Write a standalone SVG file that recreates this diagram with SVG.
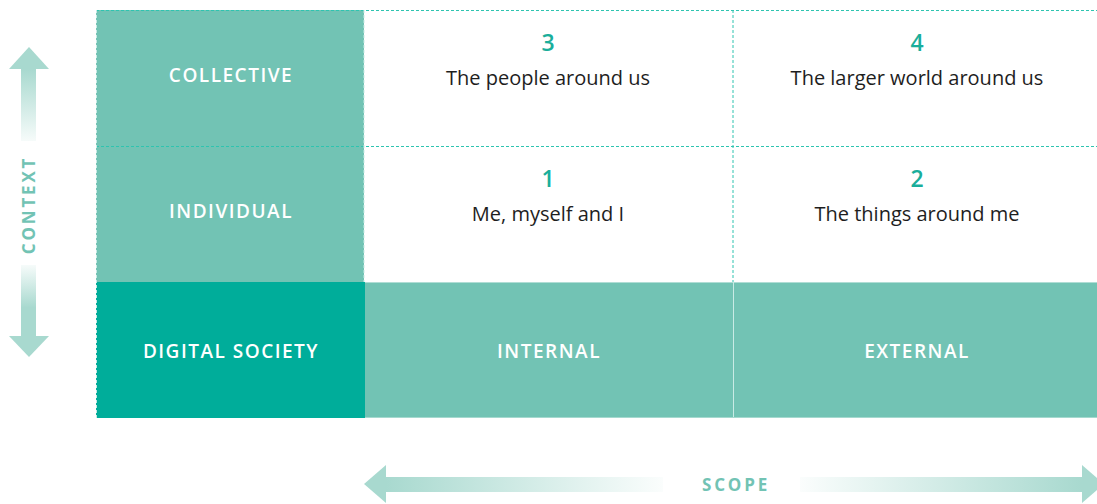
<svg xmlns="http://www.w3.org/2000/svg" width="1097" height="504" viewBox="0 0 1097 504">
<style>
.lbl{font-family:"Open Sans","Liberation Sans",sans-serif;font-weight:600;font-size:19px;letter-spacing:1.5px;fill:#ffffff;text-anchor:middle}
.num{font-family:"Open Sans","Liberation Sans",sans-serif;font-weight:600;font-size:23px;fill:#1aae9b;text-anchor:middle}
.txt{font-family:"Open Sans","Liberation Sans",sans-serif;font-weight:400;font-size:20px;fill:#1e1e1e;text-anchor:middle}
.axis{font-family:"Open Sans","Liberation Sans",sans-serif;font-weight:700;font-size:17px;letter-spacing:2.8px;fill:#72c3b4;text-anchor:middle}
.dash{stroke:#2ec4b0;stroke-width:1;stroke-dasharray:3 2;fill:none}
.light{fill:#72c3b4}
</style>
<defs>
<linearGradient id="gUp" x1="0" y1="69" x2="0" y2="141" gradientUnits="userSpaceOnUse"><stop offset="0" stop-color="#a8d9cf"/><stop offset="1" stop-color="#a8d9cf" stop-opacity="0.1"/></linearGradient>
<linearGradient id="gDown" x1="0" y1="265" x2="0" y2="336" gradientUnits="userSpaceOnUse"><stop offset="0" stop-color="#a8d9cf" stop-opacity="0.1"/><stop offset="0.6" stop-color="#a8d9cf"/><stop offset="1" stop-color="#a8d9cf"/></linearGradient>
<linearGradient id="gLeft" x1="386" y1="0" x2="663" y2="0" gradientUnits="userSpaceOnUse"><stop offset="0" stop-color="#a8d9cf"/><stop offset="1" stop-color="#a8d9cf" stop-opacity="0.05"/></linearGradient>
<linearGradient id="gRight" x1="800" y1="0" x2="1082" y2="0" gradientUnits="userSpaceOnUse"><stop offset="0" stop-color="#a8d9cf" stop-opacity="0.05"/><stop offset="1" stop-color="#a8d9cf"/></linearGradient>
</defs>

<g id="collective"><rect class="light" x="96" y="10" width="268" height="136"/><text class="lbl" x="231" y="82">COLLECTIVE</text></g>
<g id="individual"><rect class="light" x="96" y="146" width="268" height="136"/><text class="lbl" x="231" y="218">INDIVIDUAL</text></g>
<g id="digital-society"><rect fill="#00ad9a" x="96" y="282" width="268" height="136"/><text class="lbl" x="231" y="358">DIGITAL SOCIETY</text></g>
<g id="internal"><rect class="light" x="364" y="282" width="369" height="136"/><text class="lbl" x="549" y="358">INTERNAL</text></g>
<g id="external"><rect class="light" x="733" y="282" width="364" height="136"/><text class="lbl" x="917" y="358">EXTERNAL</text></g>
<g id="cell3"><text class="num" x="548" y="51">3</text><text class="txt" x="548" y="85">The people around us</text></g>
<g id="cell4"><text class="num" x="917" y="51">4</text><text class="txt" x="917" y="85">The larger world around us</text></g>
<g id="cell1"><text class="num" x="548" y="187">1</text><text class="txt" x="548" y="221">Me, myself and I</text></g>
<g id="cell2"><text class="num" x="917" y="187">2</text><text class="txt" x="917" y="221">The things around me</text></g>

<g id="grid-lines">
<line class="dash" x1="96" y1="10.5" x2="1097" y2="10.5"/>
<line class="dash" x1="96" y1="146.5" x2="1097" y2="146.5"/>
<line class="dash" x1="733" y1="10" x2="733" y2="282" stroke-dasharray="2 2"/>
<line x1="96.5" y1="10" x2="96.5" y2="418" stroke="#c9ebe5" stroke-dasharray="3 2"/>
<line x1="364" y1="10" x2="364" y2="282" stroke="#c9ebe5" stroke-dasharray="3 2"/>
<line x1="364" y1="282.5" x2="1097" y2="282.5" stroke="#b0ddd5"/>
<line x1="733.5" y1="282" x2="733.5" y2="418" stroke="#c9ebe5"/>
<line x1="364" y1="417.5" x2="1097" y2="417.5" stroke="#a5d9cf"/>
<line x1="364.5" y1="282" x2="364.5" y2="418" stroke="#00ad9a"/>
</g>

<g id="context-axis">
<polygon points="29,47 49,69 9,69" fill="#a8d9cf"/>
<rect x="21" y="69" width="15" height="72" fill="url(#gUp)"/>
<rect x="21" y="265" width="15" height="71" fill="url(#gDown)"/>
<polygon points="9,336 49,336 29,357" fill="#a8d9cf"/>
<text class="axis" transform="translate(35,205) rotate(-90)" x="0" y="0">CONTEXT</text>
</g>

<g id="scope-axis">
<polygon points="364,484 386,465 386,503" fill="#a8d9cf"/>
<rect x="386" y="477" width="277" height="15" fill="url(#gLeft)"/>
<rect x="800" y="477" width="282" height="15" fill="url(#gRight)"/>
<polygon points="1082,465 1097,478 1097,490 1082,503" fill="#a8d9cf"/>
<text class="axis" x="736" y="491">SCOPE</text>
</g>
</svg>
